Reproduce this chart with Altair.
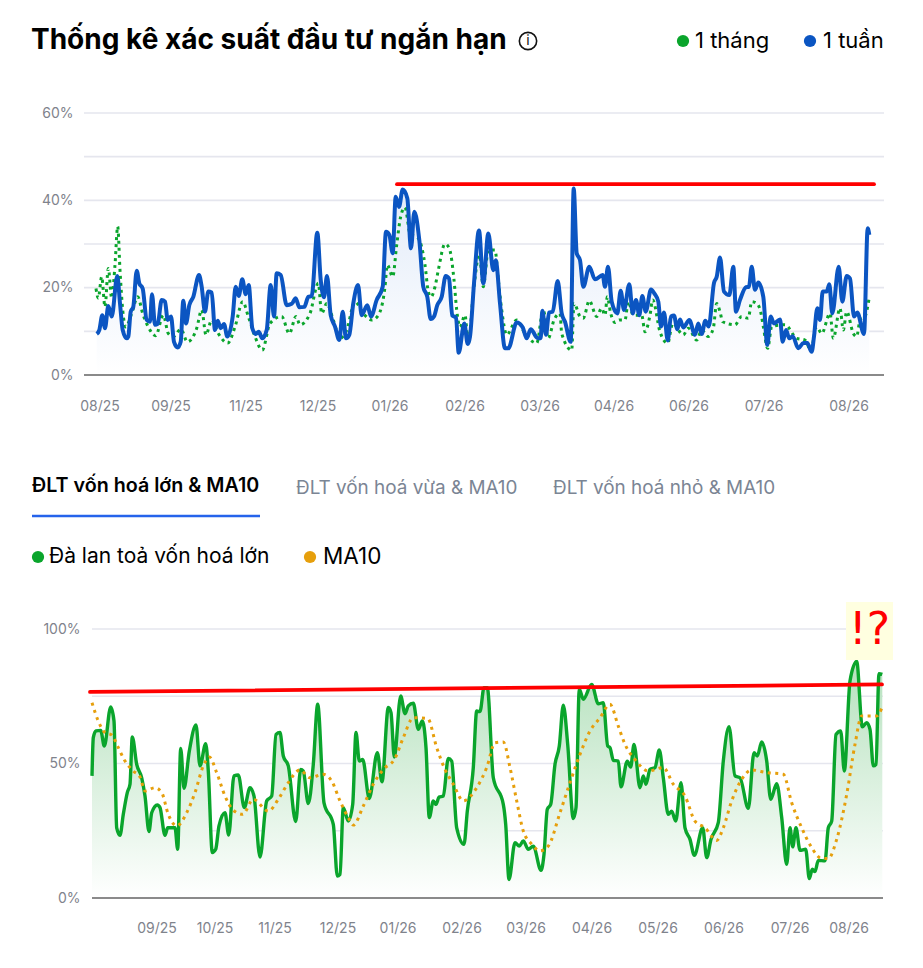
import altair as alt
import pandas as pd

# ---------- Top chart data ----------
week_t = [12.7,15.3,18.3,21,24.3,27.7,33.3,36,38.7,42.7,44.3,46.7,49.3,52.7,55.3,58.7,62.7,66,68,71,73.7,77.7,81,83.7,87,90,93.7,96.7,99.3,102,105.3,109.3,115,117.7,121,124.3,127.7,131,133.7,136.7,140,143.3,148.7,151.7,154.7,158.3,161.7,164.7,168.3,171.7,174.7,178.3,182.7,186.7,190,192.7,196.7,202.7,207.7,211.7,215.3,220.3,224.3,227.7,233.3,236.7,240,243,246.7,251,255.3,
258.7,262,265.3,269.3,274,277.7,283.3,287,292.7,298.7,302,305.3,308.7,311.7,315,318.7,323.3,327,330.3,335.3,339.3,343.3,346.7,350,353.3,357.7,361.7,365,368.3,372,374.7,380.3,383.7,386,390,395,399.3,404.3,409.3,411.7,416,421,424.3,432.7,438.7,442.7,446.7,453.3,456.7,458.3,462,465,468.7,473.7,477.7,481,486.7,489.7,492.7,496,499.3,505.3,511,
518.7,521,524,527.7,533.3,536.7,540,545.3,548.7,552,555.3,558.3,561.7,567,570.3,574.3,577,580,583.7,587,590,593.3,596,599.3,605.3,611,614.3,617.7,621.3,624.7,630,632.7,636,640,645.3,649.3,652,656,662,665,667.7,671,674.3,679.3,683.3,686.7,690,696,698.7,702,705.3,708.7,714.3,719.3,723.3,727.7,730,733.3,736,738.7,742.7,745.3,748.3,754.7,758.3,762.7,766,770,773.3,780,783.7,785.3]
week_v = [9.4,10.3,13.7,10.7,15.8,13.4,22.7,16.4,10.3,8.4,8.8,14.5,15.6,23.9,21,19.8,12.6,12.2,18.5,11.5,11.7,17.2,16.8,12.6,13.4,7.6,6.3,7.6,17,11.8,16,17.9,22.9,20.2,14.5,19.1,18.9,10.3,12.4,10.7,11.7,8.8,13.4,20.2,18.1,21.9,18.5,20.6,10.7,9.4,9.9,8.4,10.3,20.6,13.4,23.3,22.9,16,16.3,17.6,15.5,15.6,17.9,18.1,32.6,21.8,17.8,22.7,13.7,11.1,8,
14.5,8.4,9.2,16.4,20.6,13.7,16,13.4,17.2,20.2,32.8,32.1,27.9,40.8,38.5,42.5,40.5,29,37.4,30.9,20.2,17.9,12.8,13.4,16,17.9,22.7,22.1,13.6,13.2,5.1,11.8,7.1,8.8,21,33.1,21,32.4,24,26.3,16.4,6.1,6.1,12,10.9,8.4,10.5,8.5,8.4,14.7,9.2,14.3,14.5,21.5,14.1,12.2,7.6,42.7,27.9,26.3,20.2,24.8,21.9,
22.9,20.2,24.8,16.8,14.1,19.3,14.9,20.8,14.1,17.2,13.7,18.1,14.5,19.6,18.7,16.8,11.1,14.3,7.9,13.4,13.6,10.5,12.7,10.9,12.6,9.2,11.8,9.4,12.4,11.1,21.1,22.5,26.9,19.1,18.3,24.8,14.5,17.2,20.1,20.2,24.8,19.5,21.2,17.9,6.9,13.4,11.8,12.7,7.6,10.3,8.4,8.9,6.1,7.3,7.3,5.3,8.8,15.3,12.6,19.1,19.1,20.8,14.1,24.8,16.8,22.7,22.1,13.4,14.3,9.4,33.6,32.1]

month_t = [12,14.3,17.7,21,24.3,27.7,31,33.7,36,38.7,41.7,47.7,53.7,58.7,64.3,71.7,79.3,84.3,89.3,97,103.3,112.7,117.7,122,127.7,134.3,143.7,151,158.7,164.3,171,178.3,186,197.7,205.3,212,216,226,234.3,237.7,242.7,
249.3,256,262.7,271,279.3,287.7,294.3,301,303.3,308.7,312.7,316.7,321,326,334.3,341,344.3,347,351,354.3,361,365.3,370,372.7,376,381,384.3,389.3,395.3,399.3,404.3,411,414.3,417.7,422.7,432.7,441,452.7,459.3,464.3,470,476,477.7,487.7,490,496,499.3,505.3,512.7,
517.7,521,523.3,526.7,531,535.3,541,544.3,549.3,557.7,561,566,568.7,576,583.7,588.7,599.3,604.3,612.7,617.7,624.3,629.3,632.7,636,638.7,651,657.7,664.3,667.7,672.7,677,679.3,683.7,687.7,701,712.7,721,726.7,732.7,737.7,746,749.3,756,759.3,762.7,769.3,772.7,776,781,785.3]
month_v = [19.8,17.6,22.5,15.6,24.4,17.6,25.2,34,24,14.9,11,14.1,17.9,14.1,11,9,13.7,9.5,8.8,10.5,7.6,10.7,14.9,9.2,12.6,9.5,7.3,11,16.8,13.4,8.8,5.7,11.8,13.4,9.5,13.4,11.5,14.1,21,14.1,16.4,
12.6,8.4,10.3,16.8,14.1,12.6,13.7,20.2,25.2,22.5,29.8,36.3,38.4,32.4,31.3,25.2,19.1,17.9,20.2,24,30,29,21.8,14.9,11,13.7,7.3,18.7,27.5,20.2,28.6,28.6,21.8,14.9,9.2,12.6,9.5,7.3,14.9,8.4,12.6,14.1,9.5,5.7,16.4,13.4,13,17,13.4,
15.3,13.7,17.9,14.1,12,12.6,12.6,16.8,13.7,13.7,9.9,13.7,17.2,9.9,7.3,11.8,9.2,10.7,8,10.3,8.8,10.7,16.4,14.5,12.2,11.5,13.4,13,16.8,16.4,14.1,11.1,6.1,11.1,11.5,8.4,8,5.7,11.1,9.5,14.1,8.4,15.3,10.3,14.5,9.5,8.8,12.6,13.4,17.8]

top_ticks_t = [16,87,162,234,306,381,456,530,605,680,765]
top_ticks = ["08/25","09/25","11/25","12/25","01/26","02/26","03/26","04/26","06/26","07/26","08/26"]
top_grid = [10,20,30,40,50,60]
top_labels = [0,20,40,60]
top_red_t = [313,790]
top_red_v = [43.7,43.7]

# ---------- Bottom chart data ----------
dlt_t = [0,1.3,4,8.7,12.3,18.7,22,24.7,28,31.3,35.3,38,40.3,44.7,49.7,53,57,59.7,65.3,68,73,75.7,83,85.7,88.7,92,97.3,104,108,113.7,116.3,120.3,123.7,127,133,136.7,142,146.3,152.3,158,162,168,174.7,179.7,184,188,191.3,196.3,203.7,208.7,211.3,216.3,221.3,225.7,232,241.3,245.3,248,251.3,256.3,
260.7,264,267.3,270.7,277.3,285.3,290,296.3,299,302.3,308.7,313,316.3,321.3,326.3,330.3,334,337.3,341.3,344,347,351.3,356.3,359.7,364.7,372,375.3,381.3,384.7,388,392,395.3,401.3,411.3,413.7,417,423,427.3,431.3,436.3,441.3,449,452,455.3,458.7,463,467.3,471.3,475.7,481.3,484,487.3,491.3,499.7,506.3,511.3,515.7,
518,521.3,526.3,529,535.3,538.7,542,548,551.3,554,558,563,567.3,571.3,576.3,579.7,583.7,589,593,598,602.3,610.7,614.7,619,626.3,631.3,637,643,648,656.3,662,665.3,669.7,674.7,678.7,684.7,689.7,694.7,698,700.7,704,708,713.7,717.3,720.3,723,726.3,733,736.3,739.7,744,748.7,752.3,758,764.7,770.3,774.7,778,781.3,784,787,790.3]
dlt_v = [45.4,59.6,62.1,62.3,56.5,71,65.8,26.1,23.3,31.1,39.2,42.3,59.9,49.7,44.7,37.9,24.7,31.7,34.6,33.6,23.3,26.1,26.1,18.1,55.6,40.8,54.6,64.3,49.1,57.4,47.2,16.9,18.1,26.8,31.7,23.4,45.4,45.7,33.6,41,37.9,15.2,36.1,37.9,60.8,61.5,52.8,49.1,28.4,47.8,47.2,35.1,49.7,72,35.4,27.4,8.2,8.8,33.6,28.6,
34.8,61.5,50.9,51.5,37,54,43.2,70.8,68.9,52.4,75.1,68.5,71.4,72.4,62.7,65.8,55.9,29.9,36.1,34.8,37.5,37.9,51.9,50.9,26.1,20,32.3,48.5,69.5,69.3,78.2,78.2,44.7,34.8,27.4,6.9,20.6,19.3,21.2,18.1,19.3,10.3,16.2,33,34.8,49.7,56.5,71.7,57.1,29.5,33.6,77.6,73.9,79.4,72.2,72.6,56.5,
55.9,51.2,50.9,41.3,50.9,48.7,57.1,41,45.4,42.3,47.8,48.5,55,44.7,31.1,32.3,28.6,42.9,26.1,21.8,15.9,26.1,15,21.8,28,50.9,63.7,45.4,44.7,33.3,54,52.8,58,50.9,36.7,42.5,29.9,12.5,26.1,19,26.1,17.7,18.1,7.2,10.7,9.8,14,13.8,26.1,28.6,60.8,62.1,47.2,80.7,87.9,63.6,65.2,62.7,49.1,49.7,83.4,83.1]

ma_t = [0,6.3,13,19.7,26.3,33,41.3,48,53,63,69.7,76.3,84.7,94.7,103,111.3,117.3,124.7,133,141.3,150.7,161.3,176.3,186.3,196.3,208,218,231.3,239.7,248,256.3,261.3,271.3,281.3,291.3,303,311.3,321.3,335.7,344.7,353,361.3,371.3,384.7,394.7,403,411.3,418,424.7,431.3,439.7,448,456.3,468,478,488,498,508,518,526.3,533,543,556.3,571.3,581.3,593,603,613,624.7,631.3,639.7,649.7,659.7,674.7,691.3,699.7,709.7,719.7,729.7,736.3,744.7,754.7,763,769.7,784.7,789.7]
ma_v = [72.6,65.8,61.5,60.6,55.9,50.9,47.2,45,39.8,41,39.2,31.1,26.8,31.7,39.2,49.1,52.4,46.6,37.9,32.6,31.1,36.7,32.3,36.7,42.9,47.6,44.7,46,43.5,36.1,29.9,27.1,34.2,42.3,47.8,51.9,59.6,67,66.7,55.9,47.8,42.3,36.1,41,48.5,57.7,58,48.5,36.1,24.9,20,17.5,19.3,31.7,42.9,53.4,62.1,67,72,63.9,57.1,51.5,47.2,48.5,42.3,37.9,28.6,26.1,21.4,26.1,36.1,44.1,47.6,46.6,46,35.4,26.1,18.7,14.7,14.7,21.8,38.5,57.1,67.7,67.7,70.5]

bot_ticks_t = [65,123,183,246,306,370,434,500,566,632,698,757]
bot_ticks = ["09/25","10/25","11/25","12/25","01/26","02/26","03/26","04/26","05/26","06/26","07/26","08/26"]
bot_grid = [25,50,75,100]
bot_labels = [0,50,100]
bot_red_t = [-2,790]
bot_red_v = [76.6,79.4]
chip_t = [754,801]
chip_v = [88.5,110]
chip_text = "!?"

title_text = "Thống kê xác suất đầu tư ngắn hạn"
legend_top = ["1 tháng","1 tuần"]
tabs = ["ĐLT vốn hoá lớn & MA10","ĐLT vốn hoá vừa & MA10","ĐLT vốn hoá nhỏ & MA10"]
legend_bot = ["Đà lan toả vốn hoá lớn","MA10"]

GREEN = "#0aa52c"
BLUE = "#0b55c2"
ORANGE = "#e69f0c"
RED = "#ff0000"
FONT = "Inter"
W = 800
H_TOP = 262
H_BOT = 269
ONE = alt.Data(values=[{"a": 1}])

def df(t, v):
    return pd.DataFrame({"t": t, "v": v})

def make_x(domain):
    return alt.X("t:Q", scale=alt.Scale(domain=domain, nice=False, zero=False), axis=None)

def make_y(domain, vals, pad):
    return alt.Y("v:Q", scale=alt.Scale(domain=domain, nice=False),
                 axis=alt.Axis(values=vals, title=None, grid=False, domain=False, ticks=False,
                               labelExpr="datum.value + '%'", labelFont=FONT, labelFontSize=14,
                               labelColor="#7f838c", labelPadding=pad))

def txt(s, px, py, size, color="#000000", weight=400, align="left", font=FONT):
    return alt.Chart(ONE).mark_text(text=s, font=font, fontSize=size, fontWeight=weight, color=color,
                                    align=align, baseline="middle").encode(x=alt.value(px), y=alt.value(py))

def dot(px, py, color, size=150):
    return alt.Chart(ONE).mark_circle(color=color, opacity=1, size=size).encode(x=alt.value(px), y=alt.value(py))

def panel(xdom, ydom, grid, labels, pad, grid_t, baseline_t):
    X = make_x(xdom)
    Y = make_y(ydom, labels, pad)
    gdf = pd.DataFrame({"v": grid, "t": [grid_t[0]] * len(grid), "t2": [grid_t[1]] * len(grid)})
    g = alt.Chart(gdf).mark_rule(color="#e5e6ee", strokeWidth=1.6).encode(x=X, x2="t2:Q", y=Y)
    base = alt.Chart(pd.DataFrame({"t": [baseline_t[0]], "t2": [baseline_t[1]], "v": [0]})).mark_rule(
        color="#8a8a8a", strokeWidth=2).encode(x=X, x2="t2:Q", y=Y)
    return X, Y, g, base

# ---------- Top panel ----------
xd_top = [0, 800]
yd_top = [0, 60]
X, Y, g, base = panel(xd_top, yd_top, top_grid, top_labels, 11, [0, 800], [0, 800])
week = df(week_t, week_v)
area_top = alt.Chart(week).mark_area(interpolate="monotone", color=alt.Gradient(
    gradient="linear", x1=1, x2=1, y1=0, y2=1,
    stops=[alt.GradientStop(color="#e2ebf9", offset=0), alt.GradientStop(color="#ffffff", offset=1)])).encode(x=X, y=Y)
month_line = alt.Chart(df(month_t, month_v)).mark_line(interpolate="monotone", color=GREEN, strokeWidth=3,
                                                       strokeDash=[3, 4]).encode(x=X, y=Y)
week_line = alt.Chart(week).mark_line(interpolate="monotone", color=BLUE, strokeWidth=4).encode(x=X, y=Y)
red_top = alt.Chart(df(top_red_t, top_red_v)).mark_line(color=RED, strokeWidth=3.8, strokeCap="round").encode(x=X, y=Y)
tick_top = alt.Chart(pd.DataFrame({"t": top_ticks_t, "lab": top_ticks})).mark_text(
    font=FONT, fontSize=14, color="#7f838c", baseline="middle").encode(x=X, y=alt.value(H_TOP + 32), text="lab:N")
# header (pixel offsets relative to the plot origin at page x=84, y=113)
HDR = 41 - 113
info_circle = alt.Chart(ONE).mark_point(shape="circle", size=300, color="#111111", strokeWidth=1.6, filled=False,
                                        opacity=1).encode(x=alt.value(528 - 84), y=alt.value(HDR))
top = alt.layer(
    g, area_top, base, month_line, week_line, red_top, tick_top,
    txt(title_text, 31 - 84, HDR, 28, weight=700),
    info_circle,
    txt("i", 528 - 84, HDR, 14, color="#111111", align="center"),
    dot(683 - 84, HDR, GREEN),
    txt(legend_top[0], 695 - 84, HDR, 22),
    dot(810 - 84, HDR, BLUE),
    txt(legend_top[1], 823 - 84, HDR, 22),
).properties(width=W, height=H_TOP)

# ---------- Bottom panel ----------
xd_bot = [-8, 792]
yd_bot = [0, 100]
X, Y, g, base = panel(xd_bot, yd_bot, bot_grid, bot_labels, 4, [0, 791], [0, 791])
dlt = df(dlt_t, dlt_v)
area_bot = alt.Chart(dlt).mark_area(interpolate="monotone", color=alt.Gradient(
    gradient="linear", x1=1, x2=1, y1=0, y2=1,
    stops=[alt.GradientStop(color="#b5e1bd", offset=0), alt.GradientStop(color="#ffffff", offset=1)])).encode(x=X, y=Y)
dlt_line = alt.Chart(dlt).mark_line(interpolate="monotone", color=GREEN, strokeWidth=3.4).encode(x=X, y=Y)
ma_line = alt.Chart(df(ma_t, ma_v)).mark_line(interpolate="monotone", color=ORANGE, strokeWidth=3,
                                              strokeDash=[3, 4.5]).encode(x=X, y=Y)
red_bot = alt.Chart(df(bot_red_t, bot_red_v)).mark_line(color=RED, strokeWidth=3.8, strokeCap="round").encode(x=X, y=Y)
tick_bot = alt.Chart(pd.DataFrame({"t": bot_ticks_t, "lab": bot_ticks})).mark_text(
    font=FONT, fontSize=14, color="#7f838c", baseline="middle").encode(x=X, y=alt.value(H_BOT + 31), text="lab:N")
chip = alt.Chart(pd.DataFrame({"t": [chip_t[0]], "t2": [chip_t[1]], "v": [chip_v[0]], "v2": [chip_v[1]]})).mark_rect(
    color="#ffffe0").encode(x=X, x2="t2:Q", y=Y, y2="v2:Q")
chip_label = alt.Chart(pd.DataFrame({"t": [(chip_t[0] + chip_t[1]) / 2], "v": [(chip_v[0] + chip_v[1]) / 2]})).mark_text(
    text=chip_text, font="DejaVu Sans", fontSize=44, color=RED, baseline="middle").encode(x=X, y=Y)
underline = alt.Chart(ONE).mark_rule(color="#2563eb", strokeWidth=2.5).encode(
    x=alt.value(32 - 84), x2=alt.value(260 - 84), y=alt.value(515 - 628))
bottom = alt.layer(
    g, area_bot, base, dlt_line, ma_line, red_bot, tick_bot, chip, chip_label,
    txt(tabs[0], 32 - 84, 485 - 628, 19.7, weight=600),
    txt(tabs[1], 296 - 84, 487 - 628, 18.9, color="#7b8594"),
    txt(tabs[2], 553 - 84, 487 - 628, 18.9, color="#7b8594"),
    underline,
    dot(38 - 84, 556 - 628, GREEN),
    txt(legend_bot[0], 49 - 84, 556 - 628, 21),
    dot(310 - 84, 556 - 628, ORANGE),
    txt(legend_bot[1], 323 - 84, 556 - 628, 22.5),
).properties(width=W, height=H_BOT)

chart = alt.vconcat(
    top, bottom, spacing=254, bounds="flush",
    padding={"left": 22, "top": 19, "right": 0, "bottom": 0},
    background="white",
).configure_view(stroke=None)

chart.save("out.html", embed_options={"renderer": "svg", "actions": False})
